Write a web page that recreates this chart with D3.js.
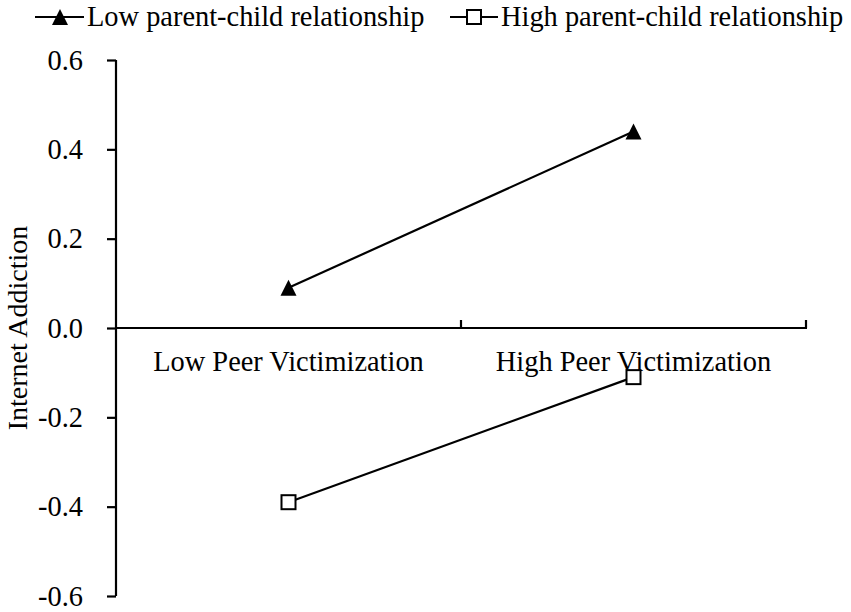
<!DOCTYPE html>
<html>
<head>
<meta charset="utf-8">
<script src="https://cdn.jsdelivr.net/npm/d3@7"></script>
<style>
body { margin: 0; background: #fff; }
svg text { font-family: "Liberation Serif", "Times New Roman", serif; fill: #000; }
</style>
</head>
<body>
<svg id="chart"></svg>
<script>
// data
var categories = ["Low Peer Victimization", "High Peer Victimization"];
var seriesNames = ["Low parent-child relationship", "High parent-child relationship"];
var lowPCR = [0.09, 0.44];
var highPCR = [-0.39, -0.11];
var yTicks = [-0.6, -0.4, -0.2, 0.0, 0.2, 0.4, 0.6];

var width = 851;
var height = 612;
var fontSize = 28.4;
var serif = "Liberation Serif, Times New Roman, serif";

var svg = d3.select("#chart")
    .attr("width", width)
    .attr("height", height);

var xScale = d3.scaleBand()
    .domain(categories)
    .range([116, 806])
    .padding(0);

var yScale = d3.scaleLinear()
    .domain([-0.6, 0.6])
    .range([596, 60]);

var xMid = function(c) { return xScale(c) + xScale.bandwidth() / 2; };

// triangle marker, a bit taller than equilateral
var triangle = function(w, h) {
    return "M0," + (-h / 2) + "L" + (w / 2) + "," + (h / 2) + "L" + (-w / 2) + "," + (h / 2) + "Z";
};

// y axis
var yAxis = d3.axisLeft(yScale)
    .tickValues(yTicks)
    .tickFormat(function(d) { return d3.format(".1f")(d).replace("\u2212", "-"); })
    .tickSize(9)
    .tickPadding(24);

var gy = svg.append("g")
    .attr("transform", "translate(116,0)")
    .call(yAxis)
    .attr("font-family", serif)
    .attr("font-size", fontSize);
gy.select(".domain").attr("stroke", "#000").attr("stroke-width", 2.2).attr("d", "M0,60V596");
gy.selectAll(".tick line").attr("stroke", "#000").attr("stroke-width", 2.2);

// x axis along zero
var x0 = yScale(0);
svg.append("line")
    .attr("x1", 115).attr("x2", 807)
    .attr("y1", x0).attr("y2", x0)
    .attr("stroke", "#000").attr("stroke-width", 2.2);

// tick marks at the band edges
var edges = categories.slice(1).map(function(c) { return xScale(c); });
edges.push(xScale.range()[1]);
svg.selectAll(".xtick")
    .data(edges)
    .enter()
    .append("line")
    .attr("class", "xtick")
    .attr("x1", function(d) { return d; })
    .attr("x2", function(d) { return d; })
    .attr("y1", x0)
    .attr("y2", x0 - 8)
    .attr("stroke", "#000").attr("stroke-width", 2.2);

svg.selectAll(".xlabel")
    .data(categories)
    .enter()
    .append("text")
    .attr("class", "xlabel")
    .attr("x", function(c) { return xMid(c); })
    .attr("y", x0 + 43)
    .attr("text-anchor", "middle")
    .attr("font-size", fontSize)
    .text(function(c) { return c; });

// y title
svg.append("text")
    .attr("transform", "translate(27," + yScale(0) + ") rotate(-90)")
    .attr("text-anchor", "middle")
    .attr("font-size", 28)
    .text("Internet Addiction");

var line = d3.line()
    .x(function(d, i) { return xMid(categories[i]); })
    .y(function(d) { return yScale(d); });

svg.append("path")
    .datum(lowPCR)
    .attr("d", line)
    .attr("fill", "none").attr("stroke", "#000").attr("stroke-width", 2.2);

svg.append("path")
    .datum(highPCR)
    .attr("d", line)
    .attr("fill", "none").attr("stroke", "#000").attr("stroke-width", 2.2);

svg.selectAll(".tri")
    .data(lowPCR)
    .enter()
    .append("path")
    .attr("class", "tri")
    .attr("d", triangle(16, 16))
    .attr("transform", function(d, i) {
        return "translate(" + xMid(categories[i]) + "," + yScale(d) + ")";
    })
    .attr("fill", "#000");

svg.selectAll(".sq")
    .data(highPCR)
    .enter()
    .append("rect")
    .attr("class", "sq")
    .attr("x", function(d, i) { return xMid(categories[i]) - 7; })
    .attr("y", function(d) { return yScale(d) - 7; })
    .attr("width", 14).attr("height", 14)
    .attr("fill", "#fff").attr("stroke", "#000").attr("stroke-width", 2);

// legend
var legend = svg.append("g");
var ly = 17;

legend.append("line")
    .attr("x1", 35).attr("x2", 84).attr("y1", ly).attr("y2", ly)
    .attr("stroke", "#000").attr("stroke-width", 2.2);
legend.append("path")
    .attr("d", triangle(16, 16))
    .attr("transform", "translate(60," + ly + ")")
    .attr("fill", "#000");
legend.append("text")
    .attr("x", 87).attr("y", ly + 9)
    .attr("font-size", fontSize)
    .text(seriesNames[0]);

legend.append("line")
    .attr("x1", 450).attr("x2", 498).attr("y1", ly).attr("y2", ly)
    .attr("stroke", "#000").attr("stroke-width", 2.2);
legend.append("rect")
    .attr("x", 467).attr("y", ly - 7)
    .attr("width", 14).attr("height", 14)
    .attr("fill", "#fff").attr("stroke", "#000").attr("stroke-width", 2);
legend.append("text")
    .attr("x", 501).attr("y", ly + 9)
    .attr("font-size", fontSize)
    .text(seriesNames[1]);
</script>
</body>
</html>
